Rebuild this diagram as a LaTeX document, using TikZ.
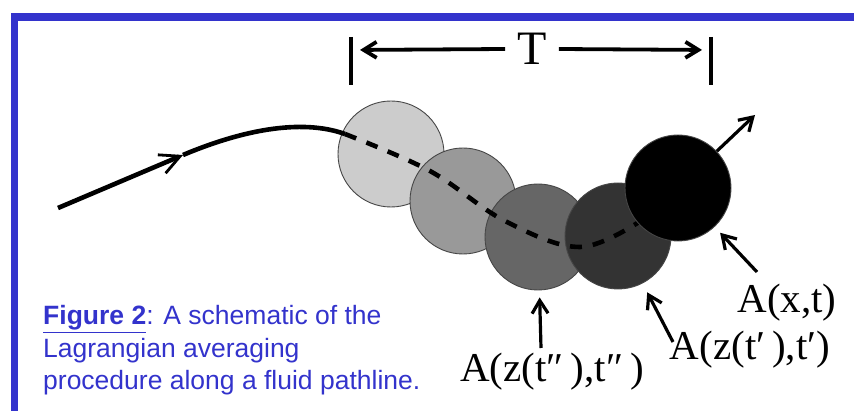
\documentclass[tikz,border=0pt]{standalone}
\usepackage{fontspec}
\setmainfont{Liberation Serif}
\newfontfamily\capfont{Liberation Sans}
\usepackage{xcolor}
\usetikzlibrary{arrows.meta}
\definecolor{frameblue}{RGB}{51,51,204}

\begin{document}
\begin{tikzpicture}[
  x=1pt, y=-1pt,
  blob/.style={circle, draw=gray!55!black, line width=0.9pt, minimum size=106pt, inner sep=0pt},
  lbl/.style={font=\fontsize{41}{45}\selectfont, inner sep=0pt, anchor=base},
  pointer/.style={-{Straight Barb[length=13pt, width=16pt]}, line width=3.2pt},
  flow/.style={line width=4.6pt},
  bar/.style={line width=3.6pt}
]
\useasboundingbox (0,0) rectangle (854,411);
% frame
\fill[frameblue] (11,13) rectangle (854,21);
\fill[frameblue] (11,13) rectangle (18,411);

% averaging window
\node[font=\fontsize{48}{50}\selectfont, inner sep=12pt] (T) at (532,49) {T};
\coordinate (lb) at (351,50);
\coordinate (rb) at (711,50);
\draw[bar] ([yshift=13pt]lb) -- ([yshift=-35pt]lb);
\draw[bar] ([yshift=13pt]rb) -- ([yshift=-35pt]rb);
\draw[pointer, line width=3.8pt] (T.west) -- (lb) [shorten >=9pt];
\draw[pointer, line width=3.8pt] (T.east) -- (rb) [shorten >=9pt];

% fluid parcels
\node[blob, fill=black!20] (c1) at (391,154) {};
\node[blob, fill=black!40] (c2) at (463,201) {};
\node[blob, fill=black!60] (c3) at (538,237) {};
\node[blob, fill=black!80] (c4) at (618,236) {};

% pathline
\coordinate (p0) at (58,208);
\coordinate (pm) at (183,155);
\coordinate (p1) at (345,134);
\draw[flow, -{Straight Barb[length=20pt, width=20pt, line width=2.8pt]}] (p0) -- (pm);
\draw[flow] (pm) .. controls (240,131) and (300,118) .. (p1);
\draw[flow, dash pattern=on 12pt off 11pt] plot[smooth, tension=0.6] coordinates
  {(p1) (430,171) (505,221) (580,247) (642,220)};

\node[blob, fill=black] (c5) at (678,188) {};
\coordinate (out) at (755,115);
\draw[pointer] (c5) -- (out);

% labels
\node[lbl] (ax) at (787,313) {A(x,t)};
\node[lbl] (az1) at (750,360) {A(z(t′\,),t′)};
\node[lbl] (az2) at (552,382) {A(z(t″\,),t″\,)};
\coordinate (ax0) at (757,272);
\coordinate (az10) at (673,342);
\coordinate (az20) at (541,348);
\draw[pointer, shorten >=8pt] (ax0) -- (c5);
\draw[pointer, shorten >=10pt] (az10) -- (c4);
\draw[pointer, shorten >=7pt] (az20) -- (c3);

% caption
\node[anchor=base west, align=left, inner sep=0pt, text=frameblue,
  font=\capfont\fontsize{26.5}{32.5}\selectfont] (cap) at (43,390)
  {\underline{\textbf{Figure 2}}: A schematic of the\\Lagrangian averaging\\procedure along a fluid pathline.};
\end{tikzpicture}
\end{document}
